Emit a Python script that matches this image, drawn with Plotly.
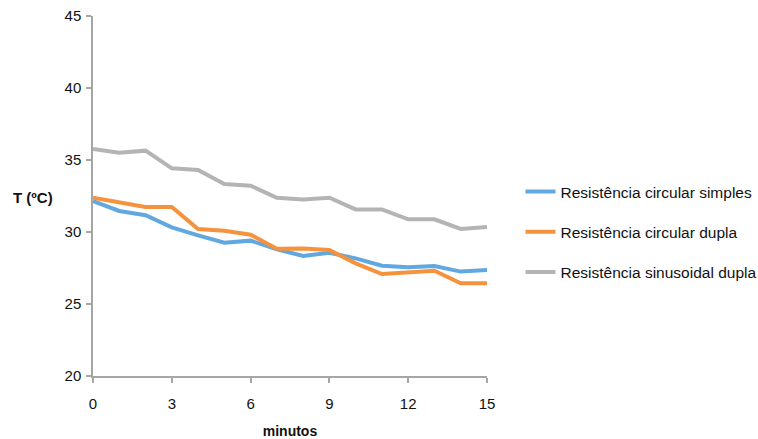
import plotly.graph_objects as go

minutos = list(range(16))

circular_simples = [32.15, 31.46, 31.16, 30.32, 29.77, 29.26, 29.40, 28.80,
                    28.33, 28.56, 28.17, 27.66, 27.55, 27.64, 27.25, 27.36]
circular_dupla = [32.38, 32.04, 31.74, 31.74, 30.21, 30.09, 29.81, 28.84,
                  28.86, 28.75, 27.82, 27.08, 27.18, 27.31, 26.44, 26.44]
sinusoidal_dupla = [35.76, 35.51, 35.65, 34.42, 34.31, 33.33, 33.22, 32.38,
                    32.25, 32.38, 31.57, 31.57, 30.88, 30.88, 30.21, 30.35]

series_names = ["Resistência circular simples",
                "Resistência circular dupla",
                "Resistência sinusoidal dupla"]
series_values = [circular_simples, circular_dupla, sinusoidal_dupla]
series_colors = ["#62A8E0", "#F5923E", "#B4B4B4"]

x_ticks = [0, 3, 6, 9, 12, 15]
y_ticks = [20, 25, 30, 35, 40, 45]

FONT = "Liberation Sans"
TXT = "#111111"

fig = go.Figure()
for i, (name, vals, col) in enumerate(zip(series_names, series_values, series_colors)):
    fig.add_trace(go.Scatter(
        x=minutos, y=vals, mode="lines", name=name,
        line=dict(color=col, width=4),
        legendgroup=f"g{i}",
    ))

axis_color = "#A6A6A6"
fig.update_layout(
    width=758, height=439,
    margin=dict(l=93, r=271, t=16, b=63, autoexpand=False),
    paper_bgcolor="white", plot_bgcolor="white",
    font=dict(family=FONT, size=15, color=TXT),
    showlegend=True,
    legend=dict(
        x=1.085, y=0.4, xanchor="left", yanchor="middle",
        font=dict(family=FONT, size=15.5, color=TXT),
        tracegroupgap=17, itemwidth=30,
        bgcolor="rgba(0,0,0,0)",
    ),
    xaxis=dict(
        range=[0, 15], tickvals=x_ticks, ticktext=[str(t) for t in x_ticks],
        showgrid=False, zeroline=False,
        showline=True, linecolor=axis_color, linewidth=1.5,
        ticks="outside", ticklen=5, tickcolor=axis_color, tickwidth=1.5,
        ticklabelstandoff=8,
        tickfont=dict(family=FONT, size=15, color=TXT),
        title=dict(text="<b>minutos</b>", font=dict(family=FONT, size=14, color=TXT),
                   standoff=17),
    ),
    yaxis=dict(
        range=[20, 45], tickvals=y_ticks, ticktext=[str(t) for t in y_ticks],
        showgrid=False, zeroline=False,
        showline=True, linecolor=axis_color, linewidth=1.5,
        ticks="outside", ticklen=5, tickcolor=axis_color, tickwidth=1.5,
        ticklabelstandoff=2,
        tickfont=dict(family=FONT, size=15, color=TXT),
    ),
    annotations=[dict(
        text="<b>T (ºC)</b>", xref="paper", yref="paper",
        x=-0.208, y=0.495, xanchor="left", yanchor="middle",
        showarrow=False, font=dict(family=FONT, size=15, color=TXT),
    )],
)

fig.write_html("out.html")
